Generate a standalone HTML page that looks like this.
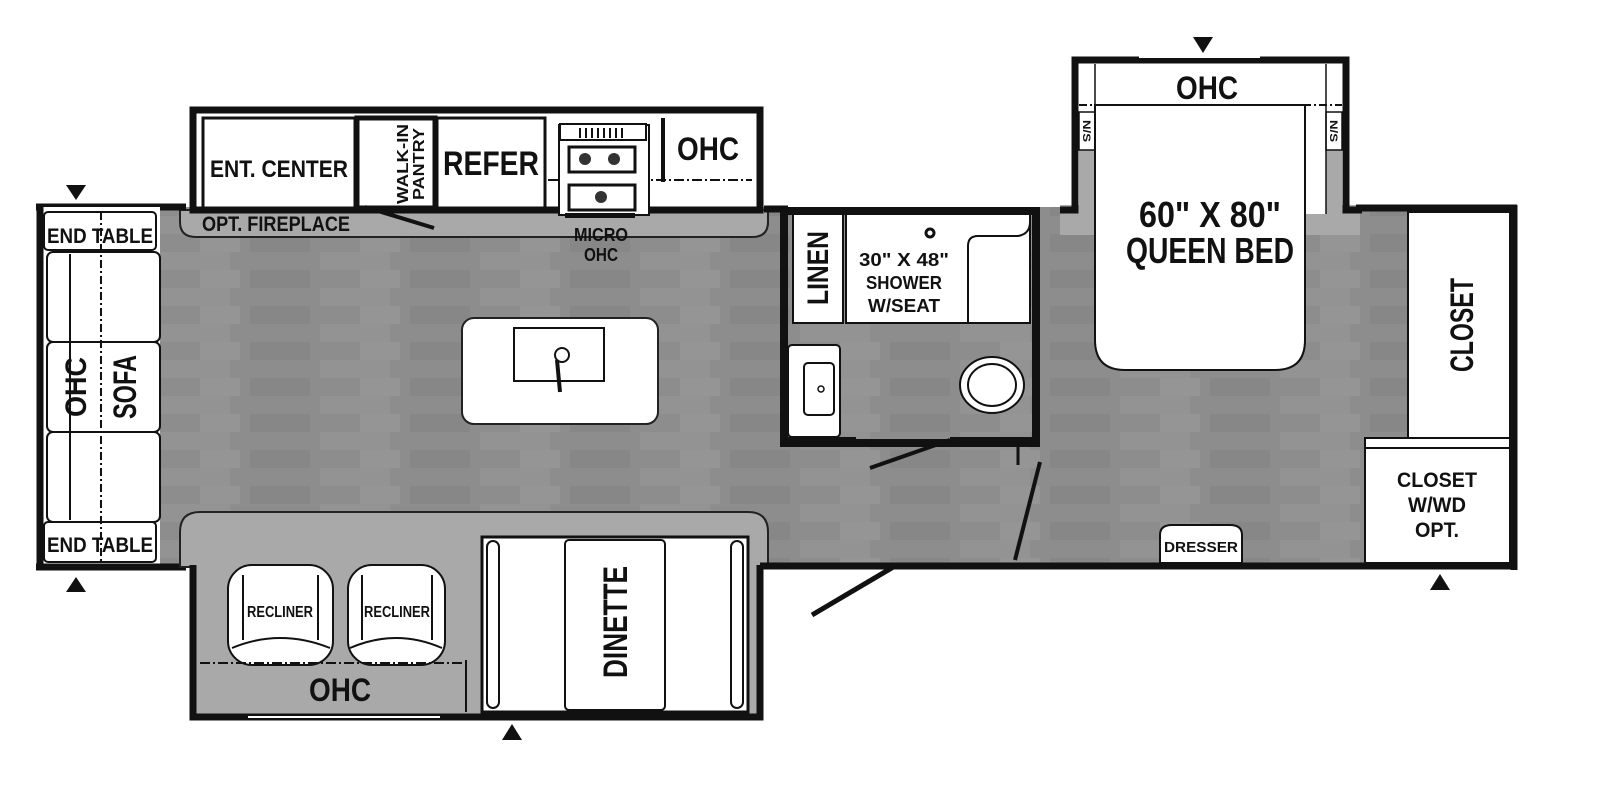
<!DOCTYPE html>
<html><head><meta charset="utf-8"><style>
html,body{margin:0;padding:0;background:#fff;}
svg{display:block}
text{font-family:"Liberation Sans",sans-serif;font-weight:bold;fill:#111;text-anchor:middle}
</style></head><body>
<svg width="1600" height="800" viewBox="0 0 1600 800" xmlns="http://www.w3.org/2000/svg">
<defs>
<pattern id="wood" width="160" height="36" patternUnits="userSpaceOnUse">
<rect width="160" height="36" fill="#8d8d8d"/>
<rect x="0" y="0" width="70" height="18" fill="#939393"/>
<rect x="90" y="18" width="60" height="18" fill="#878787"/>
<rect x="40" y="18" width="40" height="18" fill="#959595"/>
</pattern>
</defs>
<rect x="40" y="207" width="1475" height="360" fill="url(#wood)"/>
<path d="M180 210 H768 V222 Q768 237 752 237 H196 Q180 237 180 222 Z" fill="#a9a9a9" stroke="#222" stroke-width="2"/>
<rect x="193" y="110" width="567" height="100" fill="#fff" stroke="#111" stroke-width="7"/>
<rect x="203" y="118" width="152" height="90" fill="#fff" stroke="#111" stroke-width="3"/>
<rect x="357" y="118" width="78" height="90" fill="#fff" stroke="#111" stroke-width="5"/>
<rect x="437" y="118" width="108" height="90" fill="#fff" stroke="#111" stroke-width="3"/>
<line x1="663" y1="118" x2="663" y2="182" stroke="#111" stroke-width="4"/>
<line x1="548" y1="180" x2="752" y2="180" stroke="#111" stroke-width="2" stroke-dasharray="10,3,2,3"/>
<rect x="559" y="125" width="90" height="90" fill="#fff" stroke="#111" stroke-width="2"/>
<rect x="560" y="124" width="86" height="16" fill="#fff" stroke="#111" stroke-width="2"/>
<g stroke="#111" stroke-width="2"><line x1="580" y1="128" x2="580" y2="138"/><line x1="586" y1="128" x2="586" y2="138"/><line x1="592" y1="128" x2="592" y2="138"/><line x1="598" y1="128" x2="598" y2="138"/><line x1="604" y1="128" x2="604" y2="138"/><line x1="610" y1="128" x2="610" y2="138"/><line x1="616" y1="128" x2="616" y2="138"/><line x1="622" y1="128" x2="622" y2="138"/></g>
<rect x="569" y="147" width="66" height="25" fill="none" stroke="#111" stroke-width="3"/>
<circle cx="585" cy="159" r="6" fill="#333"/><circle cx="614" cy="159" r="6" fill="#333"/>
<rect x="569" y="185" width="66" height="25" fill="none" stroke="#111" stroke-width="3"/>
<circle cx="601" cy="197" r="6" fill="#333"/>
<rect x="565" y="213" width="70" height="5" fill="#111"/>
<text x="279" y="177" font-size="24" textLength="138" lengthAdjust="spacingAndGlyphs">ENT. CENTER</text>
<text transform="translate(408,164) rotate(-90)" font-size="16" textLength="80" lengthAdjust="spacingAndGlyphs">WALK-IN</text>
<text transform="translate(424,164) rotate(-90)" font-size="16" textLength="72" lengthAdjust="spacingAndGlyphs">PANTRY</text>
<text x="491" y="175" font-size="34" textLength="96" lengthAdjust="spacingAndGlyphs">REFER</text>
<text x="708" y="160" font-size="32" textLength="62" lengthAdjust="spacingAndGlyphs">OHC</text>
<line x1="365" y1="207" x2="434" y2="228" stroke="#111" stroke-width="4"/>
<text x="276" y="231" font-size="21" textLength="148" lengthAdjust="spacingAndGlyphs">OPT. FIREPLACE</text>
<text x="601" y="241" font-size="18" textLength="54" lengthAdjust="spacingAndGlyphs">MICRO</text>
<text x="601" y="261" font-size="18" textLength="34" lengthAdjust="spacingAndGlyphs">OHC</text>
<line x1="36" y1="207" x2="186" y2="207" stroke="#111" stroke-width="7"/>
<line x1="764" y1="209" x2="788" y2="209" stroke="#111" stroke-width="7"/>
<rect x="40" y="207" width="120" height="360" fill="#fff"/>
<line x1="40" y1="204" x2="40" y2="570" stroke="#111" stroke-width="7"/>
<rect x="44" y="212" width="112" height="38" fill="#fff" stroke="#111" stroke-width="2" rx="4"/>
<rect x="44" y="522" width="112" height="40" fill="#fff" stroke="#111" stroke-width="2" rx="4"/>
<rect x="47" y="252" width="113" height="90" fill="#fff" stroke="#111" stroke-width="2" rx="6"/>
<rect x="47" y="342" width="113" height="90" fill="#fff" stroke="#111" stroke-width="2" rx="6"/>
<rect x="47" y="432" width="113" height="90" fill="#fff" stroke="#111" stroke-width="2" rx="6"/>
<line x1="70" y1="254" x2="70" y2="520" stroke="#111" stroke-width="2"/>
<line x1="101" y1="212" x2="101" y2="562" stroke="#111" stroke-width="2" stroke-dasharray="8,3,2,3"/>
<text x="100" y="243" font-size="21" textLength="106" lengthAdjust="spacingAndGlyphs">END TABLE</text>
<text x="100" y="552" font-size="21" textLength="106" lengthAdjust="spacingAndGlyphs">END TABLE</text>
<text transform="translate(86,387) rotate(-90)" font-size="30" textLength="60" lengthAdjust="spacingAndGlyphs">OHC</text>
<text transform="translate(136,387) rotate(-90)" font-size="32" textLength="64" lengthAdjust="spacingAndGlyphs">SOFA</text>
<line x1="36" y1="567" x2="186" y2="567" stroke="#111" stroke-width="7"/>
<polygon points="66,185 86,185 76,200" fill="#111"/>
<polygon points="66,592 86,592 76,577" fill="#111"/>
<rect x="462" y="318" width="196" height="106" rx="12" fill="#fff" stroke="#222" stroke-width="2"/>
<rect x="514" y="328" width="90" height="53" fill="#fff" stroke="#111" stroke-width="2"/>
<circle cx="562" cy="355" r="7" fill="none" stroke="#111" stroke-width="2"/>
<line x1="557" y1="360" x2="560" y2="392" stroke="#111" stroke-width="4"/>
<path d="M180 567 V532 Q180 512 200 512 H748 Q768 512 768 532 V567 Z" fill="#a9a9a9" stroke="#222" stroke-width="2"/>
<rect x="193" y="560" width="567" height="157" fill="#a9a9a9" stroke="none"/>
<path d="M193 565 V717 H760 V565" fill="none" stroke="#111" stroke-width="7"/>
<line x1="248" y1="717" x2="440" y2="717" stroke="#fff" stroke-width="2"/>
<g fill="#fff" stroke="#111" stroke-width="2">
<rect x="228" y="565" width="105" height="100" rx="24"/>
<rect x="348" y="565" width="97" height="100" rx="24"/>
</g>
<g fill="none" stroke="#111" stroke-width="2">
<path d="M243 575 V640 M318 575 V640 M232 648 Q280 628 330 648"/>
<path d="M362 575 V640 M432 575 V640 M350 648 Q396 628 442 648"/>
</g>
<line x1="200" y1="663" x2="465" y2="663" stroke="#111" stroke-width="2" stroke-dasharray="10,3,2,3"/>
<line x1="466" y1="660" x2="466" y2="712" stroke="#111" stroke-width="2"/>
<text x="280" y="617" font-size="16" textLength="66" lengthAdjust="spacingAndGlyphs">RECLINER</text>
<text x="397" y="617" font-size="16" textLength="66" lengthAdjust="spacingAndGlyphs">RECLINER</text>
<text x="340" y="701" font-size="32" textLength="62" lengthAdjust="spacingAndGlyphs">OHC</text>
<rect x="482" y="537" width="266" height="175" fill="#fff" stroke="#111" stroke-width="3"/>
<rect x="487" y="541" width="12" height="167" rx="6" fill="#fff" stroke="#111" stroke-width="2"/>
<rect x="731" y="541" width="12" height="167" rx="6" fill="#fff" stroke="#111" stroke-width="2"/>
<rect x="565" y="540" width="100" height="170" rx="4" fill="#fff" stroke="#111" stroke-width="2"/>
<text transform="translate(627,622) rotate(-90)" font-size="34" textLength="112" lengthAdjust="spacingAndGlyphs">DINETTE</text>
<polygon points="502,740 522,740 512,724" fill="#111"/>
<line x1="760" y1="566" x2="1517" y2="566" stroke="#111" stroke-width="7"/>
<line x1="812" y1="615" x2="895" y2="566" stroke="#111" stroke-width="5"/>
<rect x="784" y="211" width="252" height="232" fill="url(#wood)" stroke="#111" stroke-width="8"/>
<rect x="793" y="214" width="50" height="109" fill="#fff" stroke="#111" stroke-width="2"/>
<rect x="846" y="214" width="184" height="109" fill="#fff" stroke="#111" stroke-width="2"/>
<path d="M968 323 V246 Q968 236 978 236 H1018 Q1030 234 1030 222" fill="none" stroke="#111" stroke-width="2"/>
<circle cx="930" cy="233" r="4" fill="none" stroke="#111" stroke-width="3"/>
<text transform="translate(828,268) rotate(-90)" font-size="30" textLength="74" lengthAdjust="spacingAndGlyphs">LINEN</text>
<text x="904" y="266" font-size="18" textLength="90" lengthAdjust="spacingAndGlyphs">30" X 48"</text>
<text x="904" y="289" font-size="18" textLength="76" lengthAdjust="spacingAndGlyphs">SHOWER</text>
<text x="904" y="312" font-size="18" textLength="72" lengthAdjust="spacingAndGlyphs">W/SEAT</text>
<rect x="788" y="345" width="52" height="92" rx="4" fill="#fff" stroke="#111" stroke-width="2"/>
<rect x="804" y="363" width="30" height="52" rx="4" fill="none" stroke="#111" stroke-width="2"/>
<circle cx="821" cy="389" r="3" fill="none" stroke="#111" stroke-width="1.5"/>
<ellipse cx="992" cy="385" rx="32" ry="28" fill="#fff" stroke="#111" stroke-width="2"/>
<ellipse cx="992" cy="385" rx="24" ry="21" fill="#fff" stroke="#111" stroke-width="2"/>
<rect x="780" y="437" width="76" height="10" fill="#111"/>
<rect x="950" y="437" width="90" height="10" fill="#111"/>
<line x1="870" y1="468" x2="950" y2="440" stroke="#111" stroke-width="4"/>
<line x1="1018" y1="447" x2="1018" y2="465" stroke="#111" stroke-width="3"/>
<line x1="1015" y1="560" x2="1040" y2="462" stroke="#111" stroke-width="4"/>
<rect x="1060" y="205" width="300" height="30" fill="#a9a9a9"/>
<path d="M1060 210 H1075 V60 H1346 V210 H1362" fill="none" stroke="#111" stroke-width="7"/>
<rect x="1079" y="64" width="263" height="150" fill="#fff"/>
<rect x="1079" y="150" width="16" height="85" fill="#a9a9a9"/>
<rect x="1326" y="150" width="16" height="85" fill="#a9a9a9"/>
<rect x="1079" y="112" width="16" height="38" fill="#fff" stroke="#111" stroke-width="1.5"/>
<rect x="1326" y="112" width="16" height="38" fill="#fff" stroke="#111" stroke-width="1.5"/>
<line x1="1095" y1="64" x2="1095" y2="214" stroke="#111" stroke-width="1.5"/>
<line x1="1326" y1="64" x2="1326" y2="214" stroke="#111" stroke-width="1.5"/>
<line x1="1139" y1="57" x2="1260" y2="57" stroke="#fff" stroke-width="2"/>
<line x1="1079" y1="105" x2="1342" y2="105" stroke="#111" stroke-width="2" stroke-dasharray="8,3,2,3"/>
<text transform="translate(1083,131) rotate(90)" font-size="11" textLength="22" lengthAdjust="spacingAndGlyphs">N/S</text>
<text transform="translate(1330,131) rotate(90)" font-size="11" textLength="22" lengthAdjust="spacingAndGlyphs">N/S</text>
<text x="1207" y="99" font-size="32" textLength="62" lengthAdjust="spacingAndGlyphs">OHC</text>
<path d="M1095 105 V340 Q1095 370 1125 370 H1275 Q1305 370 1305 340 V105 Z" fill="#fff" stroke="#111" stroke-width="2"/>
<text x="1210" y="227" font-size="36" textLength="142" lengthAdjust="spacingAndGlyphs">60" X 80"</text>
<text x="1210" y="263" font-size="36" textLength="168" lengthAdjust="spacingAndGlyphs">QUEEN BED</text>
<polygon points="1193,37 1213,37 1203,53" fill="#111"/>
<line x1="1356" y1="208" x2="1517" y2="208" stroke="#111" stroke-width="7"/>
<line x1="1514" y1="205" x2="1514" y2="570" stroke="#111" stroke-width="7"/>
<rect x="1408" y="212" width="102" height="226" fill="#fff" stroke="#111" stroke-width="2"/>
<text transform="translate(1473,325) rotate(-90)" font-size="32" textLength="94" lengthAdjust="spacingAndGlyphs">CLOSET</text>
<rect x="1365" y="438" width="145" height="125" fill="#fff" stroke="#111" stroke-width="2"/>
<line x1="1365" y1="448" x2="1510" y2="448" stroke="#111" stroke-width="2"/>
<text x="1437" y="487" font-size="21" textLength="80" lengthAdjust="spacingAndGlyphs">CLOSET</text>
<text x="1437" y="512" font-size="21" textLength="58" lengthAdjust="spacingAndGlyphs">W/WD</text>
<text x="1437" y="537" font-size="21" textLength="44" lengthAdjust="spacingAndGlyphs">OPT.</text>
<path d="M1160 563 V535 Q1160 525 1172 525 H1230 Q1242 525 1242 535 V563 Z" fill="#fff" stroke="#111" stroke-width="2"/>
<text x="1201" y="552" font-size="15" textLength="74" lengthAdjust="spacingAndGlyphs">DRESSER</text>
<polygon points="1430,590 1450,590 1440,574" fill="#111"/>
</svg>
</body></html>
